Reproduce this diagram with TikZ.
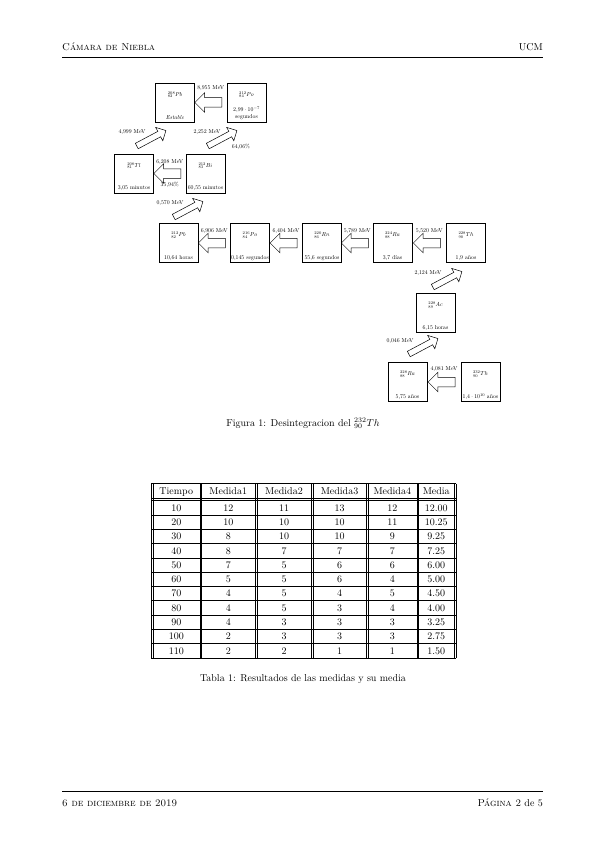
\documentclass[tikz,border=0pt]{standalone}
\usetikzlibrary{shapes.arrows,calc}
\begin{document}
\begin{tikzpicture}[x=1pt,y=-1pt,
  iso/.style={draw, line width=0.5pt, minimum width=39pt, minimum height=39pt, inner sep=0pt},
  lab/.style={font=\fontsize{10}{12}\selectfont, inner sep=0pt, scale=0.58, transform shape},
  farr/.style={draw, line width=0.5pt, single arrow, minimum height=27pt, inner xsep=0pt, inner ysep=4.5pt, single arrow head extend=5pt, shape border rotate=180},
  darr/.style={draw, line width=0.5pt, single arrow, minimum height=33pt, inner xsep=0pt, inner ysep=2.8pt, single arrow head extend=4.5pt, rotate=28},
  txt/.style={font=\fontsize{10}{12}\selectfont, inner sep=0pt, anchor=base},
  tline/.style={line width=0.4pt},
]
\useasboundingbox (0,0) rectangle (600,848);

% header and footer
\node[txt, anchor=base west] (hleft) at (62,51) {\textsc{Cámara de Niebla}};
\node[txt, anchor=base east] (hright) at (543,51) {UCM};
\draw[tline] (62,57) -- (543,57);
\draw[tline] (62,791) -- (543,791);
\node[txt, anchor=base west] (fleft) at (62,806) {\textsc{6 de diciembre de 2019}};
\node[txt, anchor=base east] (fright) at (543,806) {\textsc{Página 2} de 5};

% boxes
\node[iso] (pb208) at (175,102.5) {};
\node[iso] (po212) at (246.5,102.5) {};
\node[iso] (tl208) at (134,173.5) {};
\node[iso] (bi212) at (205.5,173.5) {};
\node[iso] (pb212) at (178.5,243) {};
\node[iso] (po216) at (250,243) {};
\node[iso] (rn220) at (322,243) {};
\node[iso] (ra224) at (392.5,243) {};
\node[iso] (th228) at (466,243) {};
\node[iso] (ac228) at (435.5,313) {};
\node[iso] (ra228) at (407.5,382) {};
\node[iso] (th232) at (480.5,382) {};

% box texts
\node[lab] (pb208n) at ($(pb208)+(0,-8)$) {${}^{208}_{82}Pb$};
\node[lab] (pb208t) at ($(pb208)+(0,15)$) {\textit{Estable}};
\node[lab] (po212n) at ($(po212)+(0,-8)$) {${}^{212}_{84}Po$};
\node[lab] (po212t) at ($(po212)+(0,7)$) {$2{,}99\cdot10^{-7}$};
\node[lab] (po212u) at ($(po212)+(0,15)$) {segundos};
\node[lab] (tl208n) at ($(tl208)+(0,-8)$) {${}^{208}_{81}Tl$};
\node[lab] (tl208t) at ($(tl208)+(0,15)$) {3,05 minutos};
\node[lab] (bi212n) at ($(bi212)+(0,-8)$) {${}^{212}_{83}Bi$};
\node[lab] (bi212t) at ($(bi212)+(0,15)$) {60,55 minutos};
\node[lab] (pb212n) at ($(pb212)+(0,-8)$) {${}^{212}_{82}Pb$};
\node[lab] (pb212t) at ($(pb212)+(0,15)$) {10,64 horas};
\node[lab] (po216n) at ($(po216)+(0,-8)$) {${}^{216}_{84}Po$};
\node[lab] (po216t) at ($(po216)+(0,15)$) {0,145 segundos};
\node[lab] (rn220n) at ($(rn220)+(0,-8)$) {${}^{220}_{86}Rn$};
\node[lab] (rn220t) at ($(rn220)+(0,15)$) {55,6 segundos};
\node[lab] (ra224n) at ($(ra224)+(0,-8)$) {${}^{224}_{88}Ra$};
\node[lab] (ra224t) at ($(ra224)+(0,15)$) {3,7 días};
\node[lab] (th228n) at ($(th228)+(0,-8)$) {${}^{228}_{90}Th$};
\node[lab] (th228t) at ($(th228)+(0,15)$) {1,9 años};
\node[lab] (ac228n) at ($(ac228)+(0,-8)$) {${}^{228}_{89}Ac$};
\node[lab] (ac228t) at ($(ac228)+(0,15)$) {6,15 horas};
\node[lab] (ra228n) at ($(ra228)+(0,-8)$) {${}^{228}_{88}Ra$};
\node[lab] (ra228t) at ($(ra228)+(0,15)$) {5,75 años};
\node[lab] (th232n) at ($(th232)+(0,-8)$) {${}^{232}_{90}Th$};
\node[lab] (th232t) at ($(th232)+(0,15)$) {$1{,}4\cdot10^{10}$ años};

% horizontal arrows
\node[farr] (a1) at ($(po212.west)!0.5!(pb208.east)$) {};
\node[lab] (a1l) at ($(a1)+(0,-14)$) {8,955 MeV};
\node[farr] (a2) at ($(bi212.west)!0.5!(tl208.east)$) {};
\node[lab] (a2l) at ($(a2)+(0,-11.5)$) {6,208 MeV};
\node[lab] (a2p) at ($(a2)+(0,11)$) {35,94\%};
\node[farr] (a3) at ($(po216.west)!0.5!(pb212.east)$) {};
\node[lab] (a3l) at ($(a3)+(0,-12)$) {6,906 MeV};
\node[farr] (a4) at ($(rn220.west)!0.5!(po216.east)$) {};
\node[lab] (a4l) at ($(a4)+(0,-12)$) {6,404 MeV};
\node[farr] (a5) at ($(ra224.west)!0.5!(rn220.east)$) {};
\node[lab] (a5l) at ($(a5)+(0,-12)$) {5,789 MeV};
\node[farr] (a6) at ($(th228.west)!0.5!(ra224.east)$) {};
\node[lab] (a6l) at ($(a6)+(0,-12)$) {5,520 MeV};
\node[farr] (a7) at ($(th232.west)!0.5!(ra228.east)$) {};
\node[lab] (a7l) at ($(a7)+(0,-13)$) {4,081 MeV};

% diagonal arrows
\node[darr] (d1) at (150,139) {};
\node[lab] (d1l) at (132,132) {4,999 MeV};
\node[darr] (d2) at (221,139) {};
\node[lab] (d2l) at (207,132) {2,252 MeV};
\node[lab] (d2p) at (241,147) {64,06\%};
\node[darr] (d3) at (187,210) {};
\node[lab] (d3l) at (170,203) {0,570 MeV};
\node[darr] (d4) at (446,280) {};
\node[lab] (d4l) at (428,273) {2,124 MeV};
\node[darr] (d5) at (422,347) {};
\node[lab] (d5l) at (400,341) {0,046 MeV};

% figure caption
\node[txt] (cap1) at (303,426) {Figura 1: Desintegracion del ${}^{232}_{90}Th$};

% table
\foreach \x in {152,200.5,256,312,367,417.5,455} {
  \draw[tline] (\x-0.8,483.5) -- (\x-0.8,657.8);
  \draw[tline] (\x+0.8,483.5) -- (\x+0.8,657.8);
}
\foreach \y in {483.5,498,500.5} { \draw[tline] (151,\y) -- (456,\y); }
\foreach \i in {1,...,11} { \draw[tline] (151,500.5+14.3*\i) -- (456,500.5+14.3*\i); }
\foreach \h/\x [count=\j] in {Tiempo/176.25,Medida1/228.25,Medida2/284,Medida3/339.5,Medida4/392.25,Media/436.25} {
  \node[txt] (h\j) at (\x,494.5) {\h};
}
\foreach \t/\a/\b/\c/\d/\m [count=\i] in {10/12/11/13/12/12.00,20/10/10/10/11/10.25,30/8/10/10/9/9.25,40/8/7/7/7/7.25,50/7/5/6/6/6.00,60/5/5/6/4/5.00,70/4/5/4/5/4.50,80/4/5/3/4/4.00,90/4/3/3/3/3.25,100/2/3/3/3/2.75,110/2/2/1/1/1.50} {
  \node[txt] (r\i-1) at (176.25,496.85+14.3*\i) {\t};
  \node[txt] (r\i-2) at (228.25,496.85+14.3*\i) {\a};
  \node[txt] (r\i-3) at (284,496.85+14.3*\i) {\b};
  \node[txt] (r\i-4) at (339.5,496.85+14.3*\i) {\c};
  \node[txt] (r\i-5) at (392.25,496.85+14.3*\i) {\d};
  \node[txt] (r\i-6) at (436.25,496.85+14.3*\i) {\m};
}
\node[txt] (cap2) at (303,681) {Tabla 1: Resultados de las medidas y su media};
\end{tikzpicture}
\end{document}
